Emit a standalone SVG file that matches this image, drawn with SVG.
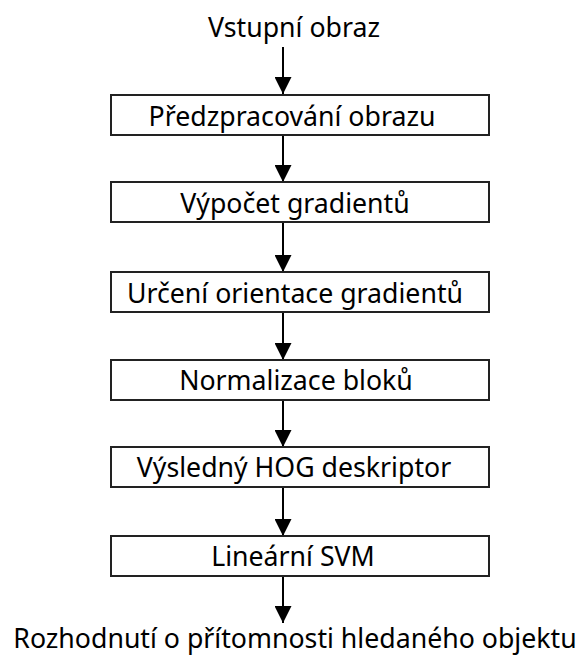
<svg xmlns="http://www.w3.org/2000/svg" width="584" height="655" viewBox="0 0 584 655">
<defs>
<marker id="ah" markerWidth="17" markerHeight="17" viewBox="0 0 17 17" refX="17" refY="8.5" orient="auto" markerUnits="userSpaceOnUse">
<path d="M0,0 L17,8.5 L0,17 Z" fill="#000"/>
</marker>
</defs>
<style>
.box{fill:#fff;stroke:#222;stroke-width:2}
.t{font-family:"Noto Sans","Open Sans","Liberation Sans",sans-serif;font-size:26.7px;fill:#000;text-anchor:middle}
.c{stroke:#000;stroke-width:2;fill:none;marker-end:url(#ah)}
</style>
<rect width="584" height="655" fill="#fff"/>
<g id="connectors">
<line class="c" x1="283" y1="47" x2="283" y2="94"/>
<line class="c" x1="283" y1="135" x2="283" y2="182"/>
<line class="c" x1="283" y1="222" x2="283" y2="272"/>
<line class="c" x1="283" y1="312" x2="283" y2="360"/>
<line class="c" x1="283" y1="400" x2="283" y2="447"/>
<line class="c" x1="283" y1="487" x2="283" y2="536"/>
<line class="c" x1="283" y1="576" x2="283" y2="623"/>
</g>
<g id="input"><text class="t" x="294" y="37">Vstupní obraz</text></g>
<g id="n1"><rect class="box" x="111" y="95" width="378" height="40"/><text class="t" x="292" y="126">Předzpracování obrazu</text></g>
<g id="n2"><rect class="box" x="111" y="182" width="378" height="40"/><text class="t" x="295" y="213">Výpočet gradientů</text></g>
<g id="n3"><rect class="box" x="111" y="272" width="378" height="40"/><text class="t" x="295" y="303">Určení orientace gradientů</text></g>
<g id="n4"><rect class="box" x="111" y="360" width="378" height="40"/><text class="t" x="296" y="390">Normalizace bloků</text></g>
<g id="n5"><rect class="box" x="111" y="447" width="378" height="40"/><text class="t" x="294" y="477">Výsledný HOG deskriptor</text></g>
<g id="n6"><rect class="box" x="111" y="536" width="378" height="40"/><text class="t" x="293" y="566">Lineární SVM</text></g>
<g id="output"><text class="t" x="295" y="648">Rozhodnutí o přítomnosti hledaného objektu</text></g>
</svg>
